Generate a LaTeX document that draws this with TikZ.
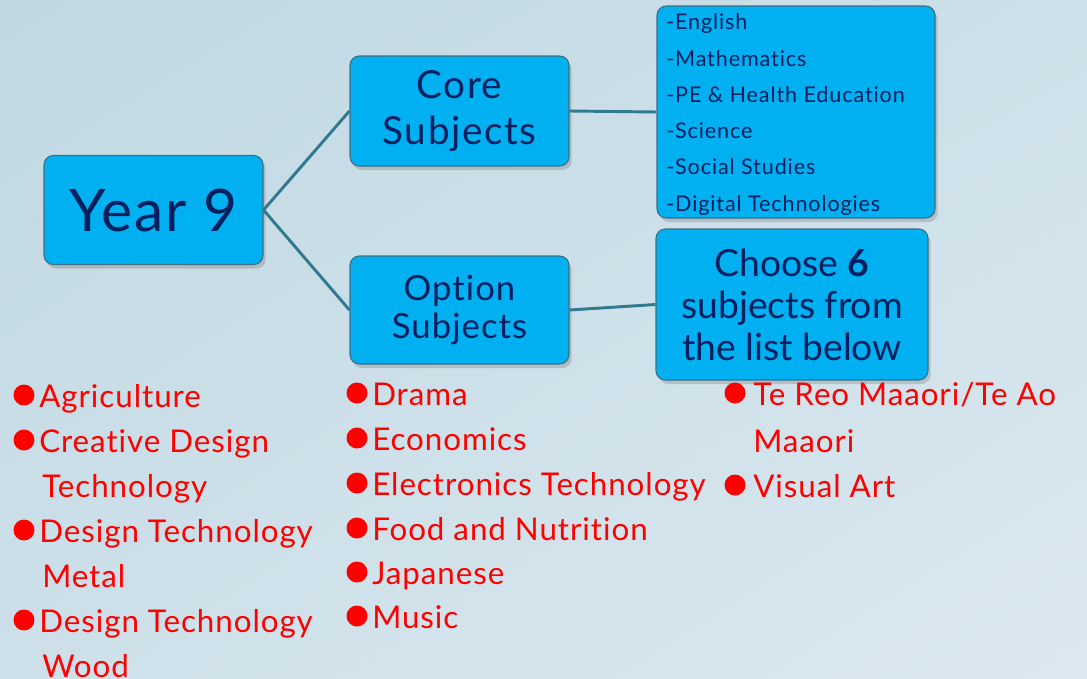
\documentclass[tikz,border=0pt]{standalone}
\usepackage{fontspec}
\setmainfont{Lato}[Ligatures=CommonOff]
\usetikzlibrary{shadows, shadings}

\definecolor{boxfill}{HTML}{00B0F0}
\definecolor{boxline}{HTML}{3B6F86}
\definecolor{navy}{HTML}{002060}
\definecolor{linkcol}{HTML}{31798F}
\definecolor{bgA}{HTML}{C0D8E2}
\definecolor{bgM}{HTML}{CDE0E9}
\definecolor{bgB}{HTML}{DCE8EF}

\tikzset{
  subjbox/.style={draw=boxline, line width=0.8pt, fill=boxfill, rounded corners=7pt,
    text=navy, align=center, inner sep=0pt,
    drop shadow={shadow xshift=2pt, shadow yshift=-3pt, opacity=0.35}},
  link/.style={draw=linkcol, line width=2.2pt},
  coreitem/.style={anchor=base west, text=navy, inner sep=0pt,
    font=\fontsize{16.2}{16.2}\selectfont\addfontfeature{LetterSpace=4}},
  optitem/.style={anchor=base west, text=red, inner sep=0pt,
    font=\fontsize{23.5}{23.5}\selectfont\addfontfeature{LetterSpace=3}},
}

\begin{document}
\begin{tikzpicture}[x=0.75pt, y=-0.75pt]
\useasboundingbox (0,0) rectangle (1087,678);
\shade[upper left=bgA, upper right=bgM, lower left=bgM, lower right=bgB] (0,0) rectangle (1087,678);

% boxes
\node[subjbox, minimum width=164.25pt, minimum height=81.75pt,
  font=\fontsize{44}{44}\selectfont\addfontfeature{LetterSpace=3}]
  (year) at (153.5,210) {Year 9};
\node[subjbox, minimum width=164.25pt, minimum height=82.5pt,
  font=\fontsize{29}{34.5}\selectfont\addfontfeature{LetterSpace=4}]
  (core) at (459.5,111) {Core\\Subjects};
\node[subjbox, minimum width=164.25pt, minimum height=81pt,
  font=\fontsize{26}{28.5}\selectfont\addfontfeature{LetterSpace=3}]
  (option) at (459.5,310) {Option\\Subjects};
\node[subjbox, minimum width=208.5pt, minimum height=159pt] (corelist) at (796,112) {};
\node[subjbox, minimum width=204pt, minimum height=113.25pt, font=\fontsize{28}{31.5}\selectfont]
  (choose) at (792,304.5) {Choose \textbf{6}\\subjects from\\the list below};

% connectors
\draw[link] (year.east) -- (core.west);
\draw[link] (year.east) -- (option.west);
\draw[link] (core.east) -- (corelist.west);
\draw[link] (option.east) -- (choose.west);

% core subjects
\node[coreitem] (c1) at (666,29) {-English};
\node[coreitem] (c2) at (666,66) {-Mathematics};
\node[coreitem] (c3) at (666,102) {-PE \& Health Education};
\node[coreitem] (c4) at (666,138) {-Science};
\node[coreitem] (c5) at (666,174) {-Social Studies};
\node[coreitem] (c6) at (666,211) {-Digital Technologies};

% option subjects
\foreach \x/\y in {24/407, 24/452, 24/542, 24/632, 357/405, 357/450, 357/495, 357/540, 357/584, 357/628, 735/405, 735/497}
  \fill[red] (\x,\y-12) circle (10.5);

\node[optitem] (o1) at (39,407) {Agriculture};
\node[optitem] (o2) at (39,452) {Creative Design};
\node[optitem] (o2b) at (42,497) {Technology};
\node[optitem] (o3) at (39,542) {Design Technology};
\node[optitem] (o3b) at (42,587) {Metal};
\node[optitem] (o4) at (39,632) {Design Technology};
\node[optitem] (o4b) at (42,677) {Wood};

\node[optitem] (o5) at (372,405) {Drama};
\node[optitem] (o6) at (372,450) {Economics};
\node[optitem] (o7) at (372,495) {Electronics Technology};
\node[optitem] (o8) at (372,540) {Food and Nutrition};
\node[optitem] (o9) at (372,584) {Japanese};
\node[optitem] (o10) at (372,628) {Music};

\node[optitem] (o11) at (753,405) {Te Reo Maaori/Te Ao};
\node[optitem] (o11b) at (753,452) {Maaori};
\node[optitem] (o12) at (753,497) {Visual Art};
\end{tikzpicture}
\end{document}
